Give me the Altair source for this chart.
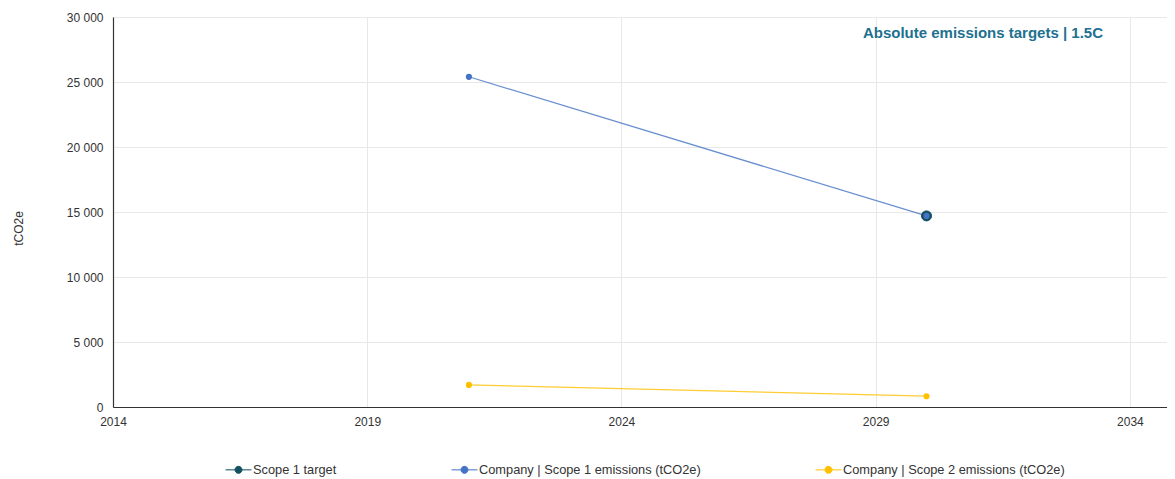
import altair as alt
import pandas as pd

# ---- data ----
series_names = [
    "Scope 1 target",
    "Company | Scope 1 emissions (tCO2e)",
    "Company | Scope 2 emissions (tCO2e)",
]
series_colors = ["#124f5f", "#4472c4", "#ffc000"]

scope1_years = [2021, 2030]
scope1_values = [25400, 14700]

scope2_years = [2021, 2030]
scope2_values = [1700, 830]

target_years = [2030]
target_values = [14700]

x_ticks = [2014, 2019, 2024, 2029, 2034]
y_ticks = [0, 5000, 10000, 15000, 20000, 25000, 30000]

company = pd.DataFrame(
    {
        "series": [series_names[1]] * len(scope1_years) + [series_names[2]] * len(scope2_years),
        "year": scope1_years + scope2_years,
        "value": scope1_values + scope2_values,
    }
)
target = pd.DataFrame(
    {"series": [series_names[0]] * len(target_years), "year": target_years, "value": target_values}
)

FONT = "Liberation Sans"
legend_symbol = "M-1,0L-0.27,0A0.27,0.27 0 1,1 0.27,0A0.27,0.27 0 1,1 -0.27,0M0.27,0L1,0"

x_enc = alt.X(
    "year:Q",
    scale=alt.Scale(domain=[2014, 2034.73], nice=False, zero=False),
    axis=alt.Axis(
        values=x_ticks,
        format="d",
        title=None,
        tickSize=0,
        labelPadding=9,
        labelFlush=False,
        grid=True,
        gridColor="#e8e8e8",
        domainColor="#333333",
        domainWidth=1.2,
        labelFontSize=12,
        labelColor="#333333",
        labelFont=FONT,
    ),
)
y_enc = alt.Y(
    "value:Q",
    scale=alt.Scale(domain=[0, 30000], nice=False),
    axis=alt.Axis(
        values=y_ticks,
        labelExpr="replace(format(datum.value, ','), ',', ' ')",
        title="tCO2e",
        titleX=-95,
        titleY=211,
        titleAngle=-90,
        titleAlign="center",
        titleBaseline="middle",
        titleFontSize=12,
        titleFontWeight="normal",
        titleColor="#333333",
        titleFont=FONT,
        tickSize=0,
        labelPadding=10,
        grid=True,
        gridColor="#e8e8e8",
        domainColor="#333333",
        domainWidth=1.2,
        labelFontSize=12,
        labelColor="#333333",
        labelFont=FONT,
    ),
)
color_enc = alt.Color(
    "series:N",
    scale=alt.Scale(domain=series_names, range=series_colors),
    legend=alt.Legend(
        title=None,
        orient="none",
        legendX=112,
        legendY=439,
        direction="horizontal",
        columnPadding=112,
        symbolType=legend_symbol,
        symbolSize=676,
        symbolStrokeWidth=1,
        labelOffset=1,
        labelLimit=400,
        labelFontSize=12.8,
        labelColor="#333333",
        labelFont=FONT,
    ),
)

lines = (
    alt.Chart(company)
    .mark_line(strokeWidth=1.2, strokeOpacity=0.8)
    .encode(x=x_enc, y=y_enc, color=color_enc, detail="series:N")
)
target_pts = (
    alt.Chart(target)
    .mark_point(filled=True, size=100, opacity=1, stroke="#124f5f", strokeWidth=1)
    .encode(x=x_enc, y=y_enc, color=color_enc)
)
company_pts = (
    alt.Chart(company)
    .mark_circle(size=38, opacity=1)
    .encode(x=x_enc, y=y_enc, color=color_enc)
)

chart = (
    alt.layer(lines, target_pts, company_pts)
    .properties(
        width=1054,
        height=390,
        autosize=alt.AutoSizeParams(type="none"),
        padding={"left": 105, "top": 9, "right": 0, "bottom": 70},
        title=alt.TitleParams(
            text="Absolute emissions targets | 1.5C",
            anchor="end",
            orient="top",
            frame="group",
            dx=-64,
            dy=34,
            fontSize=15,
            fontWeight="bold",
            color="#21708f",
            font=FONT,
        ),
    )
    .configure_view(stroke=None)
)

chart.save("out.html", embed_options={"renderer": "svg", "actions": False})
